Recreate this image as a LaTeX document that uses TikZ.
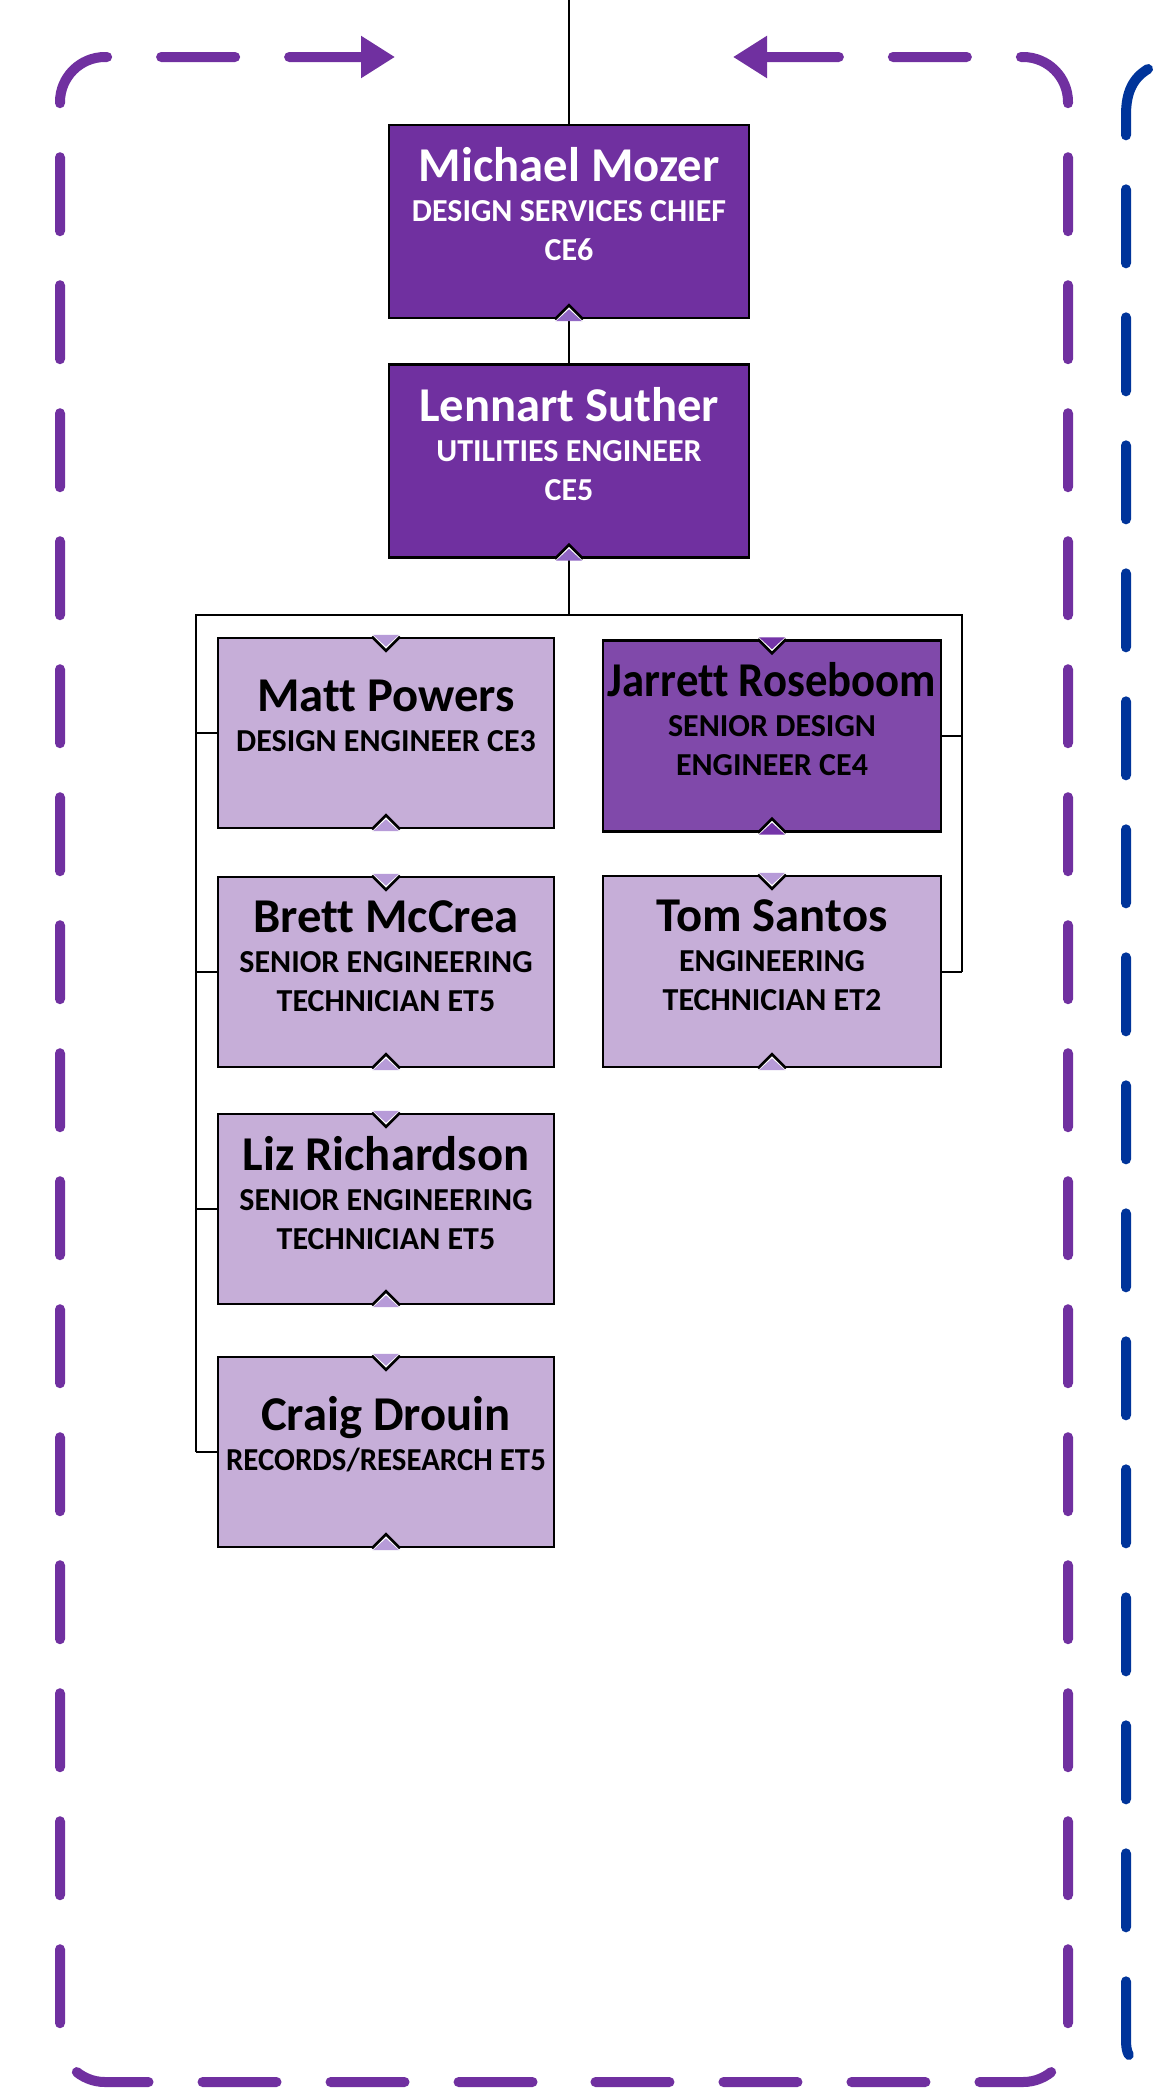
\documentclass[tikz,border=0pt]{standalone}
\usepackage{fontspec}
\setmainfont{Carlito}[Ligatures=NoCommon]
\usetikzlibrary{arrows.meta}
\definecolor{dpurple}{HTML}{7030A0}
\definecolor{mpurple}{HTML}{8049AA}
\definecolor{lpurple}{HTML}{C6AED8}
\definecolor{framepurple}{HTML}{7030A0}
\definecolor{frameblue}{HTML}{00349A}
\definecolor{notchdark}{HTML}{9066C4}
\definecolor{notchlight}{HTML}{B79BD8}
\definecolor{notchmid}{HTML}{7434A8}
\newcommand\nmf{\fontsize{24.3}{26}\selectfont\bfseries}
\newcommand\sbf{\fontsize{16}{19.3}\selectfont\bfseries}
\newcommand\mytopnotch[2]{%
  \fill[#2] ([xshift=-7.5pt,yshift=0.9pt]#1.north) -- ([xshift=7.5pt,yshift=0.9pt]#1.north) -- ([yshift=-7pt]#1.north) -- cycle;
  \draw[white,line width=1pt] ([xshift=-7.5pt,yshift=1.1pt]#1.north) -- ([yshift=-5.8pt]#1.north) -- ([xshift=7.5pt,yshift=1.1pt]#1.north);
  \draw[black,line width=1.3pt] ([xshift=-7pt]#1.north) -- ([yshift=-7pt]#1.north) -- ([xshift=7pt]#1.north);
}
\newcommand\mybotnotch[2]{%
  \fill[#2] ([xshift=-7.5pt,yshift=-0.9pt]#1.south) -- ([xshift=7.5pt,yshift=-0.9pt]#1.south) -- ([yshift=7pt]#1.south) -- cycle;
  \draw[white,line width=1pt] ([xshift=-7.5pt,yshift=-1.1pt]#1.south) -- ([yshift=5.8pt]#1.south) -- ([xshift=7.5pt,yshift=-1.1pt]#1.south);
  \draw[black,line width=1.3pt] ([xshift=-7pt]#1.south) -- ([yshift=7pt]#1.south) -- ([xshift=7pt]#1.south);
}
\tikzset{
  box/.style={draw=black, line width=1.3pt, rectangle, inner sep=0pt},
  bigbox/.style={box, fill=dpurple, minimum width=180pt, minimum height=96.5pt},
  lbox/.style={box, fill=lpurple, minimum width=168pt, minimum height=95pt},
  rbox/.style={box, minimum width=169pt, minimum height=95.5pt},
  txt/.style={align=center, inner sep=0pt, font=\sbf},
  conn/.style={draw=black, line width=1pt},
  framepath/.style={draw=framepurple, line width=5pt, line cap=round, dash pattern=on 37pt off 27pt, rounded corners=22.5pt},
  bluepath/.style={draw=frameblue, line width=5pt, line cap=round, dash pattern=on 37pt off 27pt}
}
\begin{document}
\begin{tikzpicture}[x=0.5pt, y=-0.5pt]
\fill[white] (0,0) rectangle (1166,2088);
\useasboundingbox (0,0) rectangle (1166,2088);

% outer dashed frames
\draw[framepath, {Triangle[length=17pt,width=20pt]}-] (395,57) -- (60,57) -- (60,2082) -- (564,2082);
\draw[framepath, {Triangle[length=17pt,width=20pt]}-] (733,57) -- (1068,57) -- (1068,2082) -- (564,2082);
\draw[bluepath] (1148,69) .. controls (1133,78) and (1126,92) .. (1126,115) -- (1126,2040) .. controls (1126,2050) and (1128,2055) .. (1131,2058);

% boxes
\node[bigbox] (mich) at (569,221.5) {};
\node[bigbox] (lenn) at (569,461) {};
\node[lbox] (matt) at (386,733) {};
\node[rbox, fill=mpurple] (jarr) at (772,736) {};
\node[lbox] (brett) at (386,972) {};
\node[rbox, fill=lpurple] (tom) at (772,971.5) {};
\node[lbox] (liz) at (386,1209) {};
\node[lbox] (craig) at (386,1452) {};

% connectors
\coordinate (topin) at (569,0);
\coordinate (busTL) at (196,615);
\coordinate (busTR) at (962,615);
\coordinate (busBL) at (196,1452);
\coordinate (busBR) at (962,971.5);
\draw[conn] (topin) -- (mich.north);
\draw[conn] (mich.south) -- (lenn.north);
\draw[conn] (lenn.south) -- (lenn.south |- busTL);
\draw[conn] (busBL) -- (busTL) -- (busTR) -- (busBR);
\draw[conn] (matt.west) -- (matt.west -| busTL);
\draw[conn] (brett.west) -- (brett.west -| busTL);
\draw[conn] (liz.west) -- (liz.west -| busTL);
\draw[conn] (craig.west) -- (craig.west -| busTL);
\draw[conn] (jarr.east) -- (jarr.east -| busTR);
\draw[conn] (tom.east) -- (tom.east -| busTR);

% notches
\mybotnotch{mich}{notchdark}
\mybotnotch{lenn}{notchdark}
\mytopnotch{matt}{notchlight}\mybotnotch{matt}{notchlight}
\mytopnotch{jarr}{notchmid}\mybotnotch{jarr}{notchmid}
\mytopnotch{brett}{notchlight}\mybotnotch{brett}{notchlight}
\mytopnotch{tom}{notchlight}\mybotnotch{tom}{notchlight}
\mytopnotch{liz}{notchlight}\mybotnotch{liz}{notchlight}
\mytopnotch{craig}{notchlight}\mybotnotch{craig}{notchlight}

% texts
\node[txt, text=white] (michT) at (569,204) {{\nmf Michael Mozer}\\[1pt]DESIGN SERVICES CHIEF\\CE6};
\node[txt, text=white] (lennT) at (569,444) {{\nmf Lennart Suther}\\[1pt]UTILITIES ENGINEER\\CE5};
\node[txt] (mattT) at (386,716) {{\nmf Matt Powers}\\[1pt]DESIGN ENGINEER CE3};
\node[txt] (jarrT) at (772,719) {{\nmf\scalebox{0.92}[1]{Jarrett Roseboom}}\\[1pt]SENIOR DESIGN\\ENGINEER CE4};
\node[txt] (brettT) at (386,956) {{\nmf Brett McCrea}\\[1pt]SENIOR ENGINEERING\\TECHNICIAN ET5};
\node[txt] (tomT) at (772,955) {{\nmf Tom Santos}\\[1pt]ENGINEERING\\TECHNICIAN ET2};
\node[txt] (lizT) at (386,1193) {{\nmf Liz Richardson}\\[1pt]SENIOR ENGINEERING\\TECHNICIAN ET5};
\node[txt] (craigT) at (386,1434) {{\nmf Craig Drouin}\\[1pt]\scalebox{0.965}[1]{RECORDS/RESEARCH ET5}};
\end{tikzpicture}
\end{document}
